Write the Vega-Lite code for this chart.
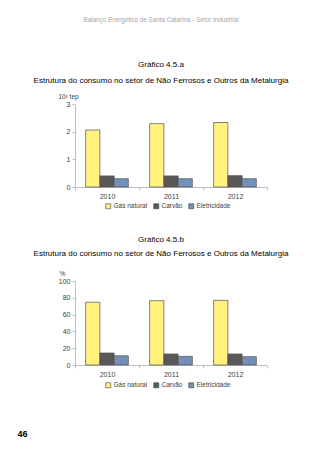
{
  "$schema": "https://vega.github.io/schema/vega-lite/v6.json",
  "background": "white",
  "padding": {"left": 17, "top": 17, "right": 5, "bottom": 5},
  "config": {
    "font": "Liberation Sans, Arial, sans-serif",
    "view": {"stroke": null},
    "axis": {"labelFontSize": 7, "labelColor": "#404040", "domainColor": "#bfbfbf", "tickColor": "#bfbfbf", "tickSize": 3, "grid": false, "labelPadding": 2}
  },
  "resolve": {"scale": {"color": "independent"}, "legend": {"color": "independent"}},
  "datasets": {
    "a": [
      {"ano": "2010", "fonte": "Gás natural", "valor": 2.06},
      {"ano": "2010", "fonte": "Carvão", "valor": 0.40},
      {"ano": "2010", "fonte": "Eletricidade", "valor": 0.30},
      {"ano": "2011", "fonte": "Gás natural", "valor": 2.29},
      {"ano": "2011", "fonte": "Carvão", "valor": 0.40},
      {"ano": "2011", "fonte": "Eletricidade", "valor": 0.30},
      {"ano": "2012", "fonte": "Gás natural", "valor": 2.33},
      {"ano": "2012", "fonte": "Carvão", "valor": 0.41},
      {"ano": "2012", "fonte": "Eletricidade", "valor": 0.30}
    ],
    "b": [
      {"ano": "2010", "fonte": "Gás natural", "valor": 74.7},
      {"ano": "2010", "fonte": "Carvão", "valor": 14.3},
      {"ano": "2010", "fonte": "Eletricidade", "valor": 11.0},
      {"ano": "2011", "fonte": "Gás natural", "valor": 76.6},
      {"ano": "2011", "fonte": "Carvão", "valor": 13.1},
      {"ano": "2011", "fonte": "Eletricidade", "valor": 10.3},
      {"ano": "2012", "fonte": "Gás natural", "valor": 77.0},
      {"ano": "2012", "fonte": "Carvão", "valor": 13.1},
      {"ano": "2012", "fonte": "Eletricidade", "valor": 9.9}
    ]
  },
  "title": {"text": "46", "orient": "bottom", "anchor": "start", "fontSize": 9, "fontWeight": "bold", "color": "#000", "offset": 41, "dx": -16},
  "spacing": 26,
  "vconcat": [
    {
      "data": {"name": "a"},
      "width": 192,
      "height": 83,
      "title": {
        "text": "Balanço Energético de Santa Catarina  -  Setor Industrial",
        "subtitle": ["Gráfico 4.5.a", "Estrutura do consumo no setor de Não Ferrosos e Outros da Metalurgia"],
        "fontSize": 6.3, "color": "#a6a6a6", "fontWeight": "normal",
        "subtitleFontSize": 8, "subtitleColor": "#000", "subtitleFontWeight": "normal", "subtitleLineHeight": 16, "subtitlePadding": 38,
        "anchor": "middle", "frame": "group", "dx": -10, "offset": 7.7
      },
      "mark": {"type": "bar", "stroke": "#505050", "strokeWidth": 0.7},
      "encoding": {
        "x": {"field": "ano", "type": "nominal", "scale": {"paddingInner": 0, "paddingOuter": 0}, "axis": {"title": null, "labelAngle": 0, "tickBand": "extent"}},
        "xOffset": {"field": "fonte", "scale": {"domain": ["Gás natural", "Carvão", "Eletricidade"], "paddingInner": 0, "paddingOuter": 0.75}},
        "y": {"field": "valor", "type": "quantitative", "scale": {"domain": [0, 3]}, "axis": {"title": "10³ tep", "titleAngle": 0, "titleX": -7, "titleY": -5, "titleAlign": "center", "titleBaseline": "bottom", "titleFontSize": 6.5, "titleFontWeight": "normal", "titleColor": "#404040", "values": [0, 1, 2, 3]}},
        "color": {"field": "fonte", "type": "nominal", "scale": {"domain": ["Gás natural", "Carvão", "Eletricidade"], "range": ["#fff27f", "#595959", "#7390b8"]},
          "legend": {"title": null, "orient": "none", "direction": "horizontal", "legendX": 30, "legendY": 99, "symbolType": "square", "symbolSize": 25, "symbolStrokeColor": "#404040", "symbolStrokeWidth": 0.6, "labelFontSize": 6.5, "labelColor": "#404040", "columnPadding": 4, "labelOffset": 2}}
      }
    },
    {
      "data": {"name": "b"},
      "width": 192,
      "height": 84,
      "title": {
        "text": "Gráfico 4.5.b",
        "subtitle": "Estrutura do consumo no setor de Não Ferrosos e Outros da Metalurgia",
        "fontSize": 8, "color": "#000", "fontWeight": "normal",
        "subtitleFontSize": 8, "subtitleColor": "#000", "subtitleFontWeight": "normal", "subtitlePadding": 6,
        "anchor": "middle", "frame": "group", "dx": -10, "offset": 12
      },
      "mark": {"type": "bar", "stroke": "#505050", "strokeWidth": 0.7},
      "encoding": {
        "x": {"field": "ano", "type": "nominal", "scale": {"paddingInner": 0, "paddingOuter": 0}, "axis": {"title": null, "labelAngle": 0, "tickBand": "extent"}},
        "xOffset": {"field": "fonte", "scale": {"domain": ["Gás natural", "Carvão", "Eletricidade"], "paddingInner": 0, "paddingOuter": 0.75}},
        "y": {"field": "valor", "type": "quantitative", "scale": {"domain": [0, 100]}, "axis": {"title": "%", "titleAngle": 0, "titleX": -13, "titleY": -5, "titleAlign": "center", "titleBaseline": "bottom", "titleFontSize": 6.5, "titleFontWeight": "normal", "titleColor": "#404040", "values": [0, 20, 40, 60, 80, 100]}},
        "color": {"field": "fonte", "type": "nominal", "scale": {"domain": ["Gás natural", "Carvão", "Eletricidade"], "range": ["#fff27f", "#595959", "#7390b8"]},
          "legend": {"title": null, "orient": "none", "direction": "horizontal", "legendX": 30, "legendY": 101, "symbolType": "square", "symbolSize": 25, "symbolStrokeColor": "#404040", "symbolStrokeWidth": 0.6, "labelFontSize": 6.5, "labelColor": "#404040", "columnPadding": 4, "labelOffset": 2}}
      }
    }
  ]
}
